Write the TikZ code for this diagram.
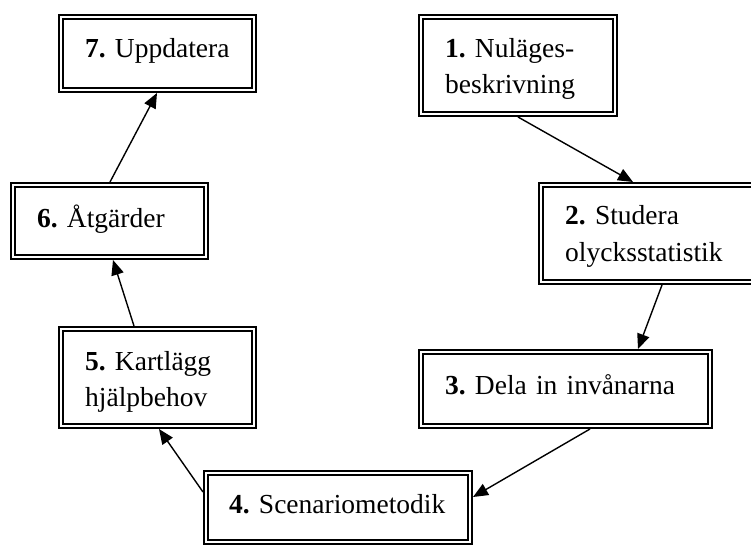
\documentclass[tikz,border=0pt]{standalone}
\usepackage{fontspec}
\setmainfont{Liberation Serif}
\usetikzlibrary{arrows.meta}
\frenchspacing

\tikzset{
  stepbox/.style={draw, double, line width=2.1pt, double distance=1.8pt,
    outer sep=3pt, inner sep=0pt, fill=white},
  steptext/.style={anchor=base west, text width=300pt, align=left,
    inner sep=0pt, font=\fontsize{27.5}{36}\selectfont},
  flow/.style={line width=1.4pt, -{Triangle[length=15pt,width=12.5pt]}}
}

\begin{document}
\begin{tikzpicture}[x=1pt, y=-1pt]
  \useasboundingbox (0,0) rectangle (751,545);
  \clip (0,0) rectangle (751,545);

  % process steps (double-framed boxes)
  \node[stepbox, minimum width=193pt, minimum height=73pt] (n7) at (157.5,53.5) {};
  \node[stepbox, minimum width=194pt, minimum height=97pt] (n1) at (518,65.5) {};
  \node[stepbox, minimum width=193pt, minimum height=72pt] (n6) at (109.5,221) {};
  \node[stepbox, minimum width=216pt, minimum height=97pt] (n2) at (649,233.5) {};
  \node[stepbox, minimum width=193pt, minimum height=97pt] (n5) at (157.5,377.5) {};
  \node[stepbox, minimum width=289pt, minimum height=74pt] (n3) at (565.5,389) {};
  \node[stepbox, minimum width=264pt, minimum height=69pt] (n4) at (338,507.5) {};

  % step labels
  \node[steptext] (t7) at ([shift={(27pt,-44pt)}]n7.north west) {\textbf{7.} Uppdatera};
  \node[steptext] (t1) at ([shift={(27pt,-44pt)}]n1.north west) {\textbf{1.} Nuläges-\\beskrivning};
  \node[steptext] (t6) at ([shift={(27pt,-45pt)}]n6.north west) {\textbf{6.} Åtgärder};
  \node[steptext] (t2) at ([shift={(27pt,-43pt)}]n2.north west) {\textbf{2.} Studera\\olycksstatistik};
  \node[steptext] (t5) at ([shift={(27pt,-44pt)}]n5.north west) {\textbf{5.} Kartlägg\\hjälpbehov};
  \node[steptext] (t3) at ([shift={(27pt,-45pt)}]n3.north west) {\textbf{3.} Dela in invånarna};
  \node[steptext] (t4) at ([shift={(26pt,-43pt)}]n4.north west) {\textbf{4.} Scenariometodik};

  % flow between steps
  \draw[flow] ([xshift=100pt]n1.south west) -- ([xshift=95pt]n2.north west);
  \draw[flow] ([xshift=124pt]n2.south west) -- ([xshift=220pt]n3.north west);
  \draw[flow] ([xshift=172pt]n3.south west) -- ([yshift=-27pt]n4.north east);
  \draw[flow] ([yshift=-22pt]n4.north west) -- ([xshift=101pt]n5.south west);
  \draw[flow] ([xshift=76pt]n5.north west) -- ([xshift=103pt]n6.south west);
  \draw[flow] ([xshift=100pt]n6.north west) -- ([xshift=99pt]n7.south west);
\end{tikzpicture}
\end{document}
